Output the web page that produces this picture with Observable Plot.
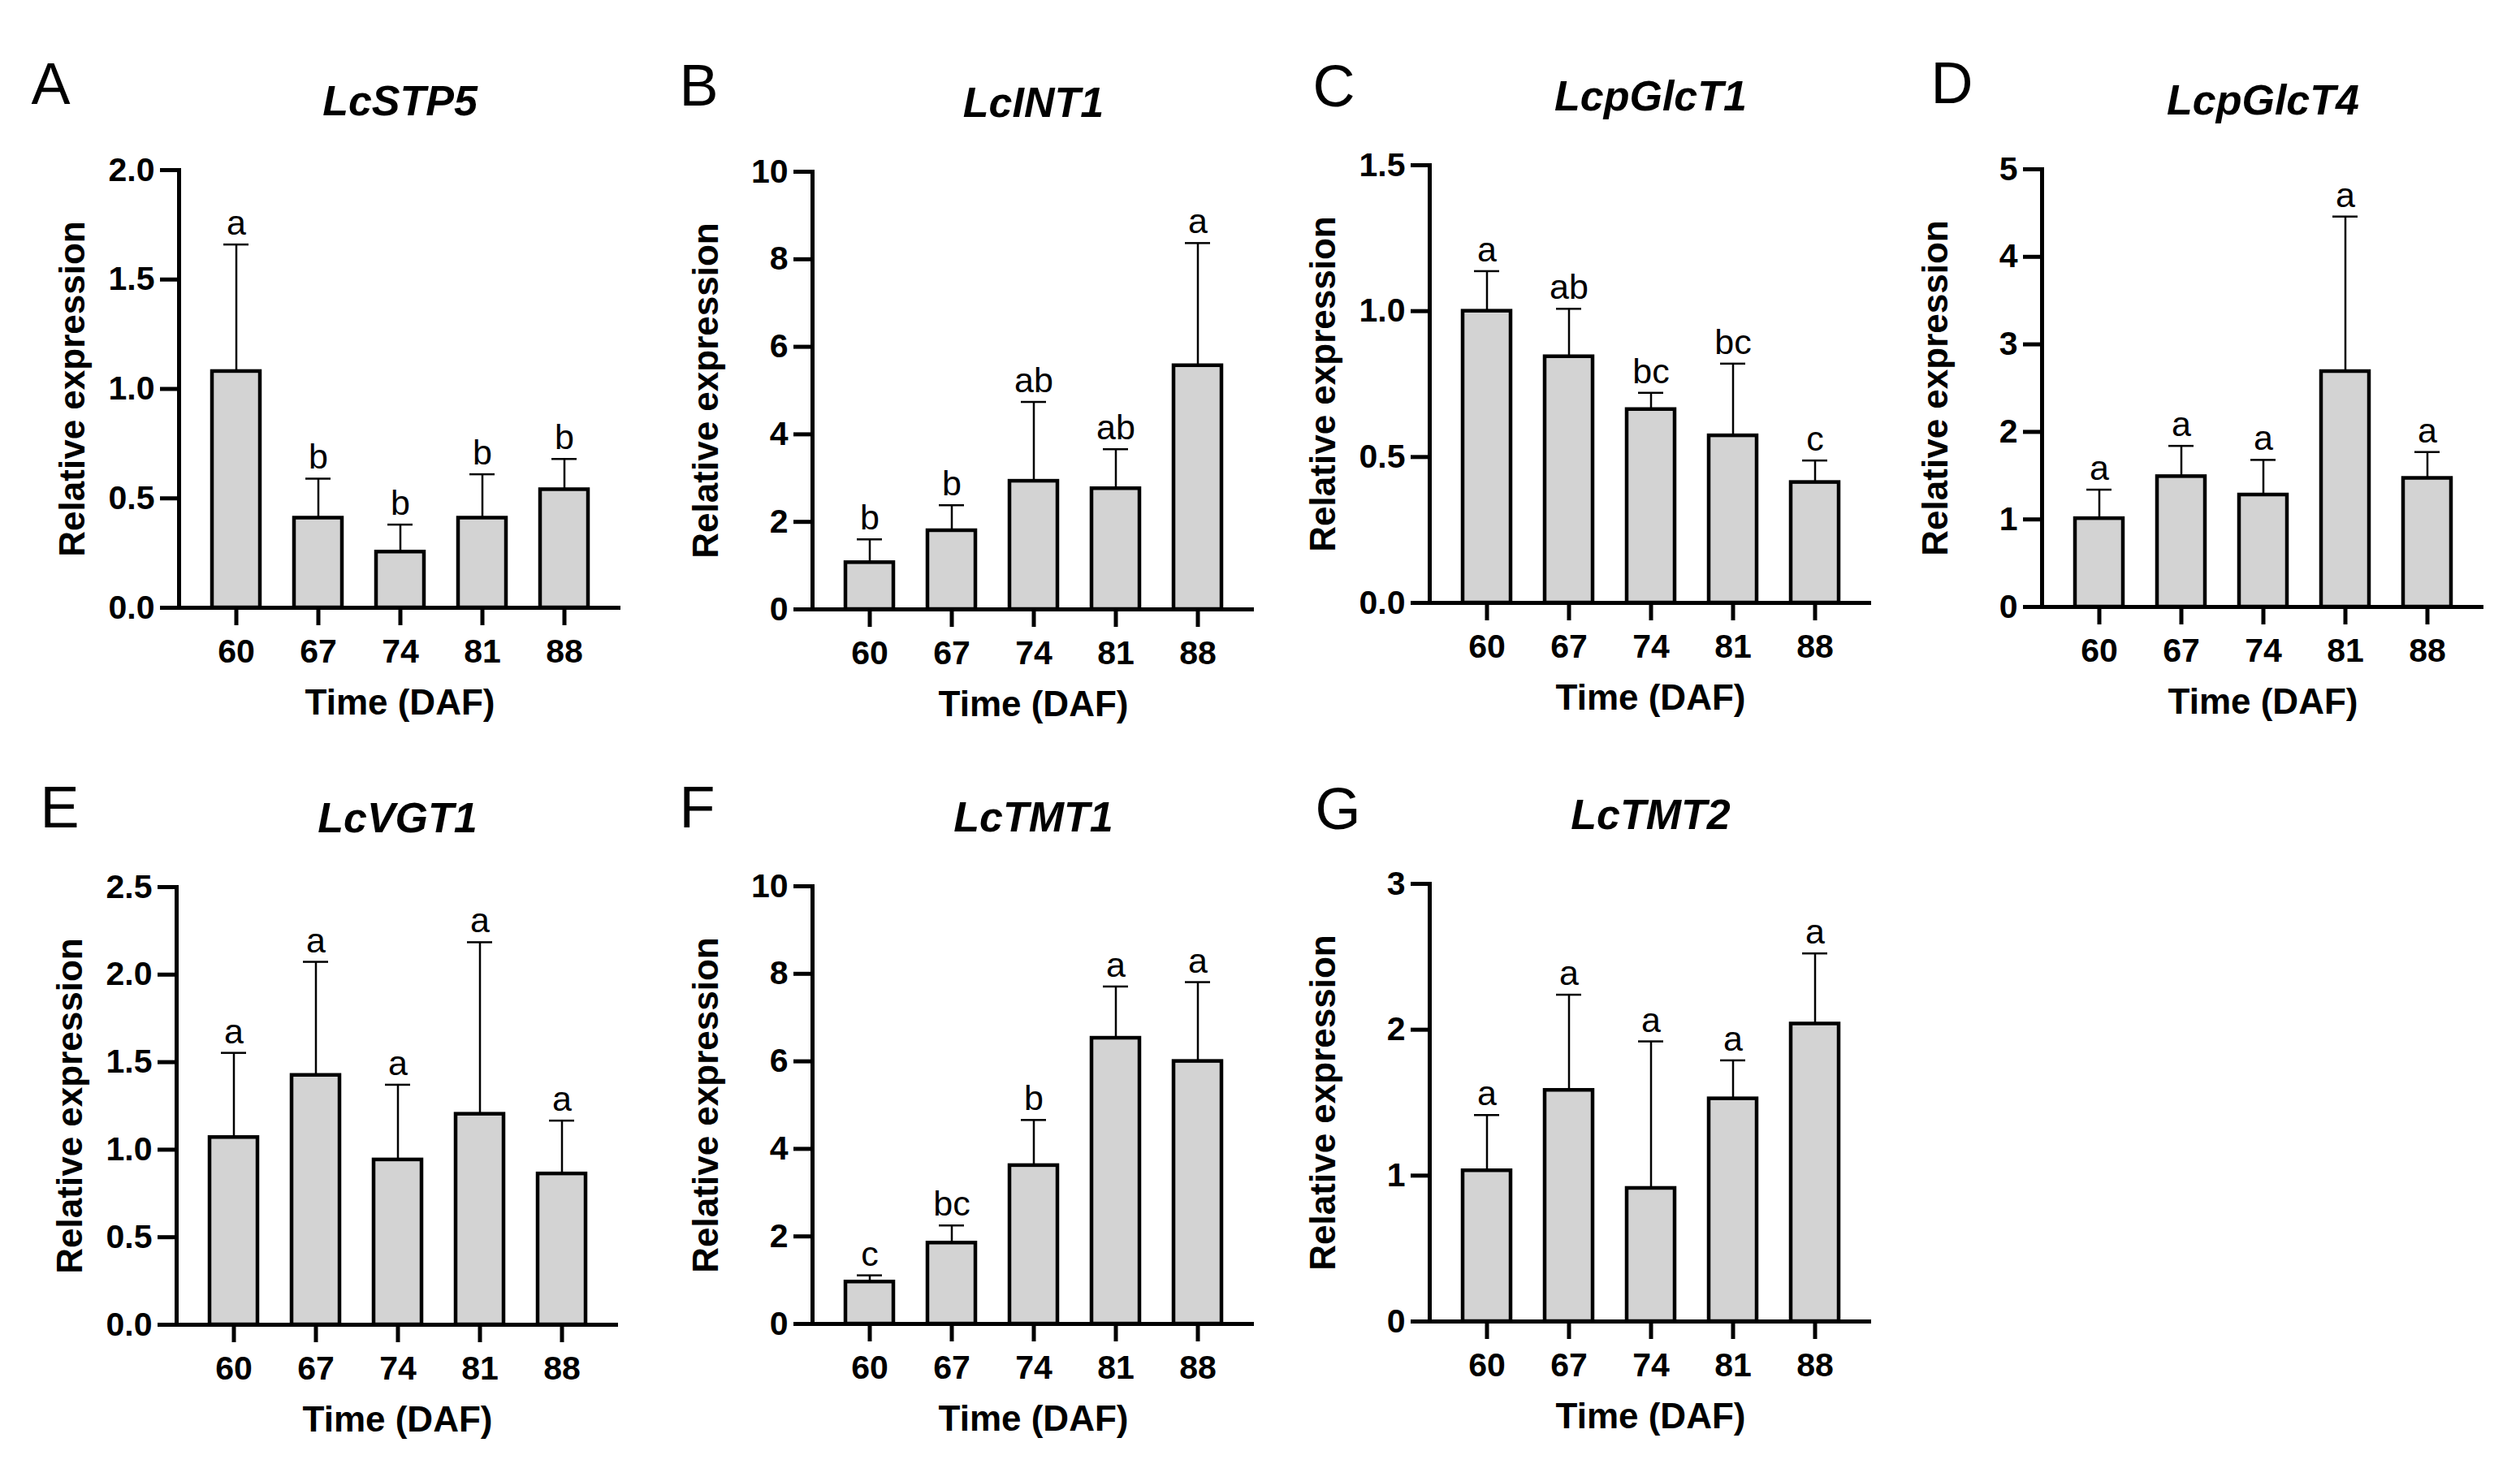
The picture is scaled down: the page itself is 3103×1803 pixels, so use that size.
<!DOCTYPE html>
<html>
<head>
<meta charset="utf-8">
<script src="https://cdn.jsdelivr.net/npm/d3@7"></script>
<script src="https://cdn.jsdelivr.net/npm/@observablehq/plot@0.6"></script>
<style>
  body { margin: 0; background: white; }
  #wrap { position: relative; width: 3103px; height: 1803px; background: white; }
  #wrap svg { position: absolute; }
</style>
</head>
<body>
<div id="wrap"></div>
<script>
// sampling days (DAF)
const days = ["60", "67", "74", "81", "88"]
const genes = ["LcSTP5", "LcINT1", "LcpGlcT1", "LcpGlcT4", "LcVGT1", "LcTMT1", "LcTMT2"]
const panelLetters = ["A", "B", "C", "D", "E", "F", "G"]

// means, SD (upper error bar) and significance letters
const stp5Mean = [1.08, 0.41, 0.255, 0.41, 0.54]
const stp5Sd = [0.58, 0.18, 0.125, 0.20, 0.14]
const stp5Sig = ["a", "b", "b", "b", "b"]

const int1Mean = [1.07, 1.80, 2.93, 2.76, 5.57]
const int1Sd = [0.53, 0.58, 1.81, 0.90, 2.80]
const int1Sig = ["b", "b", "ab", "ab", "a"]

const glcT1Mean = [1.0, 0.844, 0.663, 0.573, 0.413]
const glcT1Sd = [0.137, 0.164, 0.057, 0.247, 0.075]
const glcT1Sig = ["a", "ab", "bc", "bc", "c"]

const glcT4Mean = [1.01, 1.49, 1.28, 2.69, 1.47]
const glcT4Sd = [0.33, 0.35, 0.40, 1.77, 0.30]
const glcT4Sig = ["a", "a", "a", "a", "a"]

const vgt1Mean = [1.07, 1.425, 0.942, 1.203, 0.862]
const vgt1Sd = [0.483, 0.648, 0.429, 0.982, 0.304]
const vgt1Sig = ["a", "a", "a", "a", "a"]

const tmt1Mean = [0.96, 1.85, 3.62, 6.53, 6.0]
const tmt1Sd = [0.15, 0.40, 1.04, 1.18, 1.81]
const tmt1Sig = ["c", "bc", "b", "a", "a"]

const tmt2Mean = [1.034, 1.585, 0.913, 1.527, 2.04]
const tmt2Sd = [0.381, 0.655, 1.007, 0.263, 0.483]
const tmt2Sig = ["a", "a", "a", "a", "a"]

// y tick values per panel
const stp5Ticks = [0, 0.5, 1, 1.5, 2]
const int1Ticks = [0, 2, 4, 6, 8, 10]
const glcT1Ticks = [0, 0.5, 1, 1.5]
const glcT4Ticks = [0, 1, 2, 3, 4, 5]
const vgt1Ticks = [0, 0.5, 1, 1.5, 2, 2.5]
const tmt1Ticks = [0, 2, 4, 6, 8, 10]
const tmt2Ticks = [0, 1, 2, 3]

const xLabel = "Time (DAF)"
const yLabel = "Relative expression"

const series = [
  [stp5Mean, stp5Sd, stp5Sig, stp5Ticks, ".1f"],
  [int1Mean, int1Sd, int1Sig, int1Ticks, "d"],
  [glcT1Mean, glcT1Sd, glcT1Sig, glcT1Ticks, ".1f"],
  [glcT4Mean, glcT4Sd, glcT4Sig, glcT4Ticks, "d"],
  [vgt1Mean, vgt1Sd, vgt1Sig, vgt1Ticks, ".1f"],
  [tmt1Mean, tmt1Sd, tmt1Sig, tmt1Ticks, "d"],
  [tmt2Mean, tmt2Sd, tmt2Sig, tmt2Ticks, "d"]
]

// where each frame sits on the page (left of y axis, top of y axis) + panel letter offset
const layout = [
  {fx: 220, fy: 209, lx: -182, ly: -82},
  {fx: 1000, fy: 211, lx: -164, ly: -82},
  {fx: 1760, fy: 203, lx: -144, ly: -73},
  {fx: 2514, fy: 208, lx: -137, ly: -82},
  {fx: 217, fy: 1092, lx: -168, ly: -74},
  {fx: 1000, fy: 1091, lx: -164, ly: -73},
  {fx: 1760, fy: 1088, lx: -141, ly: -68}
]

const mL = 200, mR = 20, mT = 150, mB = 160
const frameW = 544, frameH = 539
const font = "'Liberation Sans', Arial, Helvetica, sans-serif"

series.forEach(([mean, sd, sig, ticks, fmt], i) => {
  const rows = days.map((d, j) => ({day: d, mean: mean[j], upper: mean[j] + sd[j], sig: sig[j]}))
  const pos = layout[i]

  let chart = Plot.plot({
    width: mL + frameW + mR,
    height: mT + frameH + mB,
    marginLeft: mL, marginRight: mR, marginTop: mT, marginBottom: mB,
    style: {fontFamily: font, background: "white", color: "black"},
    x: {type: "band", domain: days, paddingInner: 0.42, paddingOuter: 0.39, axis: null},
    y: {domain: [0, d3.max(ticks)], axis: null},
    marks: [
      Plot.barY(rows, {x: "day", y: "mean", fill: "#d3d3d3", stroke: "black", strokeWidth: 4.5}),
      Plot.ruleX(rows, {x: "day", y1: "mean", y2: "upper", stroke: "black", strokeWidth: 2.5}),
      Plot.tickY(rows, {x: "day", y: "upper", stroke: "black", strokeWidth: 2.5, inset: 14}),
      Plot.text(rows, {x: "day", y: "upper", text: "sig", dy: -12, lineAnchor: "bottom", fontSize: 43}),
      Plot.axisX({tickSize: 22, tickPadding: 16, strokeWidth: 5, fontSize: 41, fontWeight: "bold", label: null}),
      Plot.axisY({ticks: ticks, tickFormat: d3.format(fmt), tickSize: 23, tickPadding: 7, strokeWidth: 5,
                  fontSize: 41, fontWeight: "bold", label: null}),
      Plot.ruleY([0], {stroke: "black", strokeWidth: 5}),
      Plot.frame({anchor: "left", stroke: "black", strokeWidth: 5}),
      // axis titles
      Plot.text([xLabel], {text: d => d, frameAnchor: "bottom", dy: 131, lineAnchor: "bottom",
                           textAnchor: "middle", fontSize: 44, fontWeight: "bold"}),
      Plot.text([yLabel], {text: d => d, frameAnchor: "left", rotate: -90, dx: -148, lineAnchor: "top",
                           textAnchor: "middle", fontSize: 44, fontWeight: "bold"}),
      // gene title and panel letter
      Plot.text([genes[i]], {text: d => d, frameAnchor: "top", dy: -68, lineAnchor: "bottom",
                             textAnchor: "middle", fontSize: 52, fontWeight: "bold", fontStyle: "italic"}),
      Plot.text([panelLetters[i]], {text: d => d, frameAnchor: "top-left", dx: pos.lx, dy: pos.ly,
                                    textAnchor: "start", lineAnchor: "bottom", fontSize: 72})
    ]
  })

  chart.style.left = (pos.fx - mL) + "px"
  chart.style.top = (pos.fy - mT) + "px"
  d3.select("#wrap").append(() => chart)
})
</script>
</body>
</html>
